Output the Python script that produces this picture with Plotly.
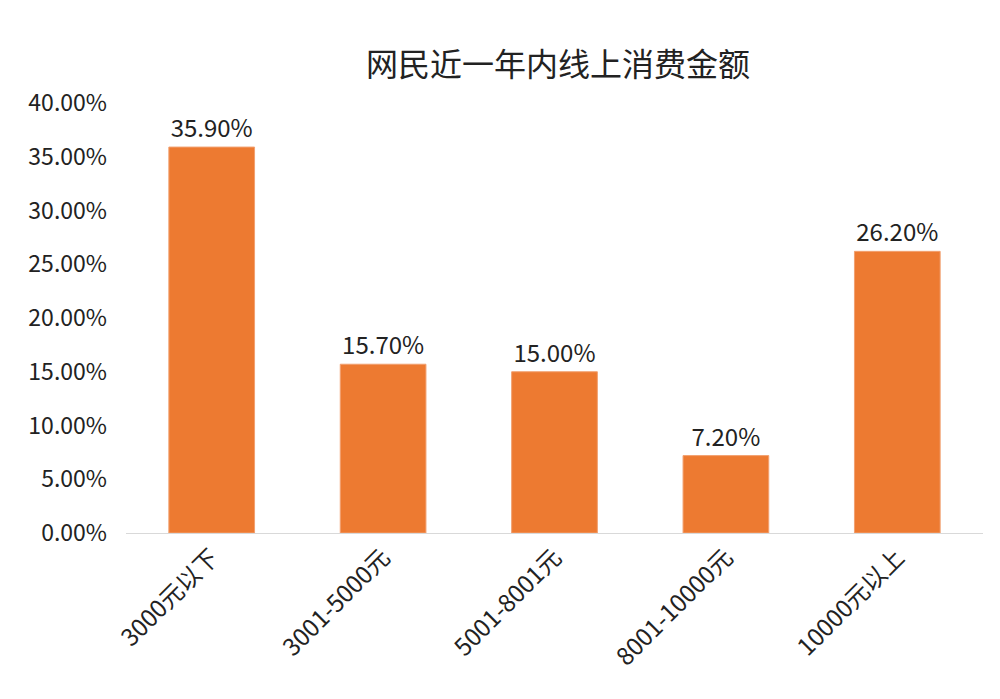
import plotly.graph_objects as go

categories = ['3000元以下', '3001-5000元', '5001-8001元', '8001-10000元', '10000元以上']
values = [0.359, 0.157, 0.150, 0.072, 0.262]
tick_vals = [0, 0.05, 0.10, 0.15, 0.20, 0.25, 0.30, 0.35, 0.40]

fig = go.Figure()
fig.add_trace(go.Bar(x=categories, y=values,
                     marker=dict(color='#ED7A31', line=dict(color='#F2A070', width=1)),
                     width=0.5,
                     text=['%.2f%%' % (v * 100) for v in values],
                     textposition='outside',
                     textfont=dict(size=24, color='#222'),
                     cliponaxis=False))
fig.update_layout(
    title=dict(text='网民近一年内线上消费金额', x=0.55, y=0.935, xanchor='center',
               font=dict(size=32, color='#222')),
    font=dict(family='Noto Sans CJK SC, Noto Sans', color='#222'),
    width=1000, height=699,
    plot_bgcolor='white', paper_bgcolor='white',
    margin=dict(l=118, r=25, t=95, b=174),
    showlegend=False,
    bargap=0.5,
)
fig.update_yaxes(range=[0, 0.40], tickvals=tick_vals, tickformat='.2%',
                 showgrid=False, zeroline=False, showline=False,
                 tickfont=dict(size=23), ticklabelstandoff=18)
fig.update_xaxes(tickangle=-45, tickfont=dict(size=24), showline=True,
                 linecolor='#D9D9D9', linewidth=1, showgrid=False)
fig.write_html("out.html")
